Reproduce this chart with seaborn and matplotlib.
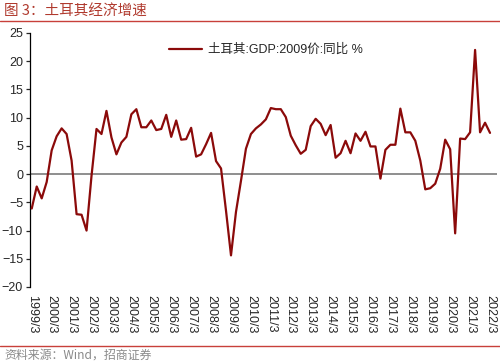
import matplotlib
matplotlib.use('Agg')
import matplotlib.pyplot as plt
import seaborn as sns
import pandas as pd

# 土耳其 GDP (2009 prices) yoy %, quarterly 1999Q1 - 2022Q1
years = list(range(1999, 2023))
growth = [
    -6.1, -2.2, -4.3, -1.4,    # 1999
    4.2, 6.7, 8.1, 7.1,        # 2000
    2.4, -7.1, -7.2, -10.0,    # 2001
    -0.3, 8.0, 7.1, 11.2,      # 2002
    6.5, 3.5, 5.6, 6.6,        # 2003
    10.6, 11.5, 8.3, 8.3,      # 2004
    9.5, 7.8, 8.0, 10.5,       # 2005
    6.6, 9.5, 6.1, 6.2,        # 2006
    8.2, 3.1, 3.5, 5.3,        # 2007
    7.3, 2.3, 1.0, -6.5,       # 2008
    -14.4, -6.7, -1.2, 4.5,    # 2009
    7.1, 8.1, 8.8, 9.7,        # 2010
    11.7, 11.5, 11.5, 10.1,    # 2011
    6.8, 5.1, 3.6, 4.3,        # 2012
    8.5, 9.8, 8.9, 6.9,        # 2013
    8.7, 2.9, 3.7, 5.9,        # 2014
    3.7, 7.2, 5.9, 7.5,        # 2015
    4.9, 4.9, -0.8, 4.3,       # 2016
    5.2, 5.2, 11.6, 7.4,       # 2017
    7.4, 5.9, 2.4, -2.7,       # 2018
    -2.5, -1.7, 0.95, 6.1,     # 2019
    4.4, -10.5, 6.3, 6.2,      # 2020
    7.4, 22.0, 7.4, 9.1,       # 2021
    7.3,                       # 2022
]
tick_labels = [f'{y}/3' for y in years]
series_name = '土耳其:GDP:2009价:同比 %'

df = pd.DataFrame({'idx': range(len(growth)), 'value': growth})

sns.set_style('ticks')
plt.rcParams['font.family'] = ['Liberation Sans', 'Noto Sans CJK SC', 'DejaVu Sans']

fig = plt.figure(figsize=(5.0, 3.63), dpi=100)
ax = fig.add_axes([0.06, 0.2094, 0.934, 0.6997])

ax.axhline(0, color='#707070', lw=1.1, zorder=1)
sns.lineplot(data=df, x='idx', y='value', color='#8B0A0A', lw=1.6,
             label=series_name, ax=ax, zorder=3)

ax.set_ylim(-20, 25)
ax.set_yticks(range(-20, 26, 5))
ax.set_xlim(-0.35, 93.4)
ax.set_xticks(range(0, len(growth), 4))
ax.set_xticklabels(tick_labels, rotation=270, fontsize=9)
ax.tick_params(axis='x', length=0, pad=6)
ax.tick_params(axis='y', labelsize=9, length=3, width=0.9, direction='out', pad=2)
ax.set_xlabel('')
ax.set_ylabel('')
for s in ['top', 'right', 'bottom']:
    ax.spines[s].set_visible(False)
ax.spines['left'].set_linewidth(0.9)
ax.spines['left'].set_color('black')

leg = ax.legend(loc='center', bbox_to_anchor=(0.505, 0.933), frameon=False,
                fontsize=9, handlelength=2.6, handletextpad=0.5)

fig.text(0.008, 0.968, '图 3：土耳其经济增速', color='#B03A2E', fontsize=10.5,
         va='center', ha='left', family=['Noto Sans CJK SC'])
fig.add_artist(plt.Line2D([0, 1], [0.942, 0.942], color='#C8403A', lw=1.0))
fig.add_artist(plt.Line2D([0, 1], [0.047, 0.047], color='#C8403A', lw=1.0))
fig.text(0.008, 0.022, '资料来源：Wind，招商证券', color='#8A8A8A', fontsize=8.6,
         va='center', ha='left', family=['Noto Sans CJK SC', 'DejaVu Sans'])

fig.savefig('out.png', dpi=100)
